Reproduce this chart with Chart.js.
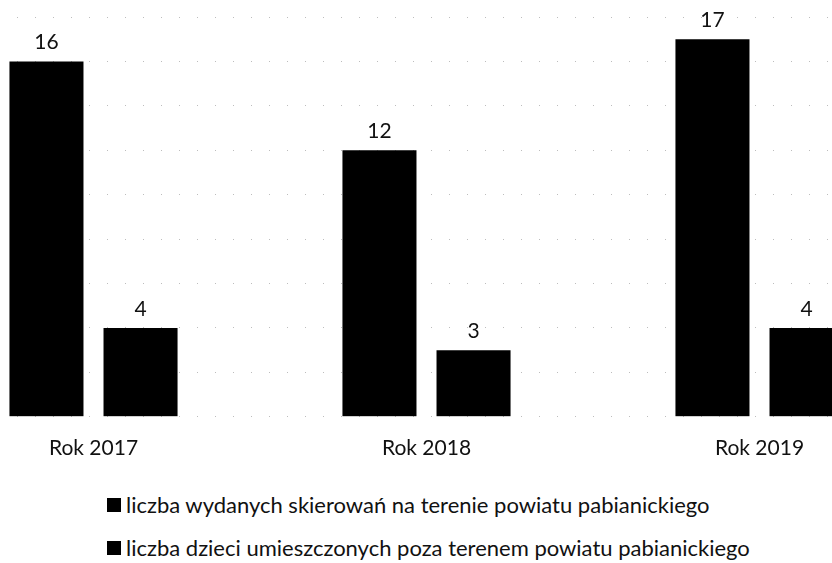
<!DOCTYPE html>
<html lang="pl">
<head>
    <meta charset="UTF-8">
    <title>Skierowania</title>
    <style>
        html, body {
            margin: 0;
            padding: 0;
            background: #fff;
            overflow: hidden;
        }

        .wrap {
            position: relative;
            width: 832px;
            height: 563px;
            overflow: hidden;
            font-family: Lato, "Liberation Sans", sans-serif;
        }

        /* the source chart is cropped on both sides, so the canvas is wider than the page */
        .wrap canvas {
            position: absolute;
            left: -73px;
            top: 0;
        }

        .legend {
            position: absolute;
            left: 107px;
            top: 483px;
            font-size: 22px;
            color: #111;
        }

        .legend div {
            display: flex;
            align-items: center;
            height: 43px;
            white-space: nowrap;
        }

        .legend span {
            display: inline-block;
            width: 14px;
            height: 14px;
            background: #000;
            margin-right: 5px;
        }
    </style>
</head>
<body>
    <div class="wrap">
        <canvas id="chart" width="999" height="472"></canvas>
        <div class="legend" id="legend"></div>
    </div>
    <script src="https://cdn.jsdelivr.net/npm/chart.js"></script>
    <script>
        const years = ['Rok 2017', 'Rok 2018', 'Rok 2019'];
        const skierowania = [16, 12, 17];
        const pozaPowiatem = [4, 3, 4];
        const seriesNames = [
            'liczba wydanych skierowań na terenie powiatu pabianickiego',
            'liczba dzieci umieszczonych poza terenem powiatu pabianickiego'
        ];

        const font = 'Lato, "Liberation Sans", sans-serif';

        // values printed above each bar
        const valueLabels = {
            id: 'valueLabels',
            afterDatasetsDraw(chart) {
                const ctx = chart.ctx;
                ctx.save();
                ctx.fillStyle = '#111';
                ctx.font = '21px ' + font;
                ctx.textAlign = 'center';
                ctx.textBaseline = 'alphabetic';
                chart.data.datasets.forEach((ds, i) => {
                    chart.getDatasetMeta(i).data.forEach((bar, j) => {
                        ctx.fillText(ds.data[j], bar.x, bar.y - 12);
                    });
                });
                ctx.restore();
            }
        };

        const chart = new Chart(document.getElementById('chart'), {
            type: 'bar',
            data: {
                labels: years,
                datasets: [
                    {
                        label: seriesNames[0],
                        data: skierowania,
                        backgroundColor: '#000',
                        categoryPercentage: 0.565,
                        barPercentage: 0.787
                    },
                    {
                        label: seriesNames[1],
                        data: pozaPowiatem,
                        backgroundColor: '#000',
                        categoryPercentage: 0.565,
                        barPercentage: 0.787
                    }
                ]
            },
            options: {
                responsive: false,
                animation: false,
                layout: { padding: { top: 17, left: 0, right: 0, bottom: 0 } },
                plugins: {
                    tooltip: { enabled: false },
                    legend: { display: false }
                },
                scales: {
                    x: {
                        grid: { display: false },
                        border: { display: false },
                        ticks: {
                            color: '#111',
                            font: { family: font, size: 21 },
                            padding: 11
                        }
                    },
                    y: {
                        min: 0,
                        max: 18,
                        ticks: { display: false, stepSize: 2 },
                        grid: {
                            color: '#bdbdbd',
                            drawTicks: false,
                            lineWidth: 1
                        },
                        border: { display: false, dash: [1, 17] }
                    }
                }
            },
            plugins: [valueLabels]
        });

        // legend rows, left aligned like the original
        const legendEl = document.getElementById('legend');
        chart.data.datasets.forEach(ds => {
            const row = document.createElement('div');
            const box = document.createElement('span');
            box.style.background = ds.backgroundColor;
            row.appendChild(box);
            row.appendChild(document.createTextNode(ds.label));
            legendEl.appendChild(row);
        });
    </script>
</body>
</html>
